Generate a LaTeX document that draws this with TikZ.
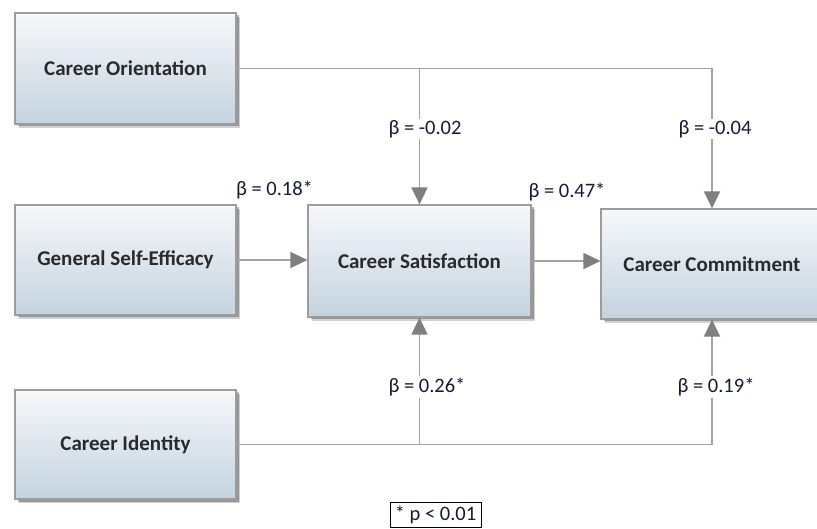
\documentclass[tikz,border=0pt]{standalone}
\usepackage{fontspec}
\setmainfont{Carlito}
\usetikzlibrary{arrows.meta}
\definecolor{boxtop}{HTML}{F6F8FA}
\definecolor{boxbot}{HTML}{C4D3DF}
\definecolor{boxline}{HTML}{9C9C9C}
\definecolor{connc}{HTML}{A3A3A3}
\definecolor{tipc}{HTML}{7F7F7F}
\definecolor{lblc}{HTML}{141C30}
\definecolor{boxtxt}{HTML}{2A2A2A}
\begin{document}
\begin{tikzpicture}[x=1pt,y=-1pt,
  varbox/.style={draw=boxline, line width=1.2pt, top color=boxtop, bottom color=boxbot,
    text=boxtxt, font=\bfseries\fontsize{21}{24}\selectfont, inner sep=0pt,
    preaction={fill=black, opacity=.18, transform canvas={xshift=4pt,yshift=-4pt}},
    preaction={fill=black, opacity=.28, transform canvas={xshift=2.5pt,yshift=-2.5pt}}},
  conn/.style={draw=connc, line width=1.7pt},
  arr/.style={conn, -{Triangle[length=17pt,width=16pt,fill=tipc,color=tipc]}},
  beta/.style={text=lblc, font=\fontsize{20.5}{23}\selectfont, inner sep=1.5pt},
  betaw/.style={beta, fill=white}
]
\useasboundingbox (0,0) rectangle (817,529);

\node[varbox, minimum width=221pt, minimum height=111pt] (co) at (125.5,68.5) {Career Orientation};
\node[varbox, minimum width=221pt, minimum height=110pt] (gse) at (125.5,260) {General Self-Efficacy};
\node[varbox, minimum width=223pt, minimum height=112pt] (cs) at (419.5,261) {Career Satisfaction};
\node[varbox, minimum width=222pt, minimum height=110pt] (cc) at (712,264) {Career Commitment};
\node[varbox, minimum width=221pt, minimum height=109pt] (ci) at (125.5,444.5) {Career Identity};

% top path
\coordinate (jt1) at (cs.north |- co.east);
\coordinate (jt2) at (cc.north |- co.east);
\draw[conn] (co.east) -- (jt2);
\draw[arr] (jt1) -- (cs.north);
\draw[arr] (jt2) -- (cc.north);

% bottom path
\coordinate (jb1) at (cs.south |- ci.east);
\coordinate (jb2) at (cc.south |- ci.east);
\draw[conn] (ci.east) -- (jb2);
\draw[arr] (jb1) -- (cs.south);
\draw[arr] (jb2) -- (cc.south);

% horizontal
\draw[arr] (gse.east) -- (gse.east -| cs.west);
\draw[arr] (cs.east) -- (cs.east -| cc.west);

% labels
\node[betaw] (b1) at (425,129) {β = -0.02};
\node[betaw] (b2) at (715,129) {β = -0.04};
\node[beta] (b3) at (274.5,190) {β = 0.18*};
\node[beta] (b4) at (567,192) {β = 0.47*};
\node[betaw] (b5) at (427,387) {β = 0.26*};
\node[betaw] (b6) at (716,387) {β = 0.19*};

\node[draw=black, line width=0.9pt, minimum width=91pt, minimum height=25pt, inner sep=0pt,
  text=lblc, font=\fontsize{20.5}{23}\selectfont] (leg) at (435.5,514.5) {* p < 0.01};
\end{tikzpicture}
\end{document}
